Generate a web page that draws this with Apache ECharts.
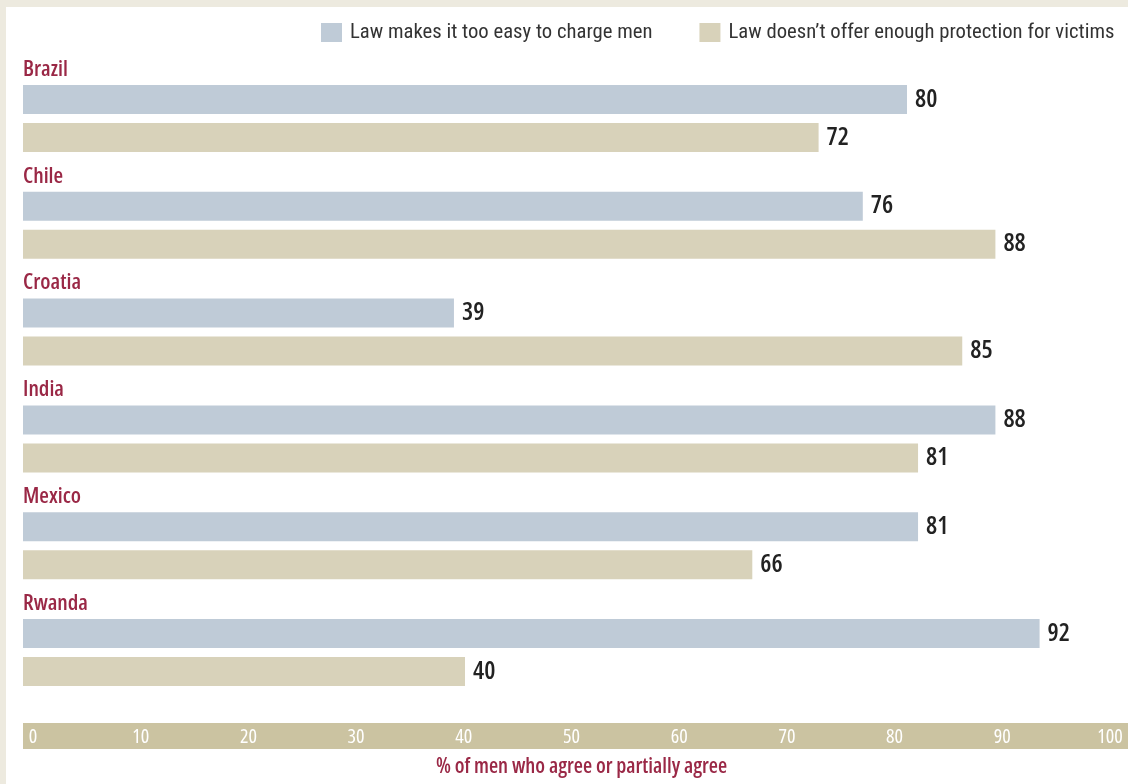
<!DOCTYPE html>
<html>
<head>
<meta charset="utf-8">
<script src="https://cdn.jsdelivr.net/npm/echarts@6/dist/echarts.min.js"></script>
<style>
html,body{margin:0;padding:0;background:#edeadf;}
#chart{width:1128px;height:784px;}
</style>
</head>
<body>
<div id="chart"></div>
<script>
const countries = ['Brazil', 'Chile', 'Croatia', 'India', 'Mexico', 'Rwanda'];
const seriesNames = ['Law makes it too easy to charge men', 'Law doesn\u2019t offer enough protection for victims'];
const tooEasy = [80, 76, 39, 88, 81, 92];
const notEnough = [72, 88, 85, 81, 66, 40];
const axisTitle = '% of men who agree or partially agree';

const COND = "'Open Sans'";
const LEG = "'Roboto'";
const RED = '#9a2846';
const BLUE = '#bfcbd7';
const TAN = '#d8d2ba';
const BAND = '#cbc3a1';

const chart = echarts.init(document.getElementById('chart'), null, {renderer: 'canvas'});

const valueLabel = {
  show: true,
  position: 'right',
  distance: 8,
  fontFamily: COND,
  fontStyle: 'condensed',
  fontWeight: 600,
  fontSize: 25,
  color: '#222222'
};

chart.setOption({
  backgroundColor: '#edeadf',
  animation: false,
  graphic: [
    {type: 'rect', z: -10, shape: {x: 6, y: 7, width: 1122, height: 777}, style: {fill: '#ffffff'}},
    {type: 'rect', z: -5, shape: {x: 23, y: 723, width: 1105, height: 26}, style: {fill: BAND}}
  ],
  legend: {
    left: 316,
    top: 17,
    width: 900,
    itemWidth: 21,
    itemHeight: 19,
    itemGap: 47,
    icon: 'rect',
    textStyle: {fontFamily: LEG, fontStyle: 'condensed', fontSize: 20.7, color: '#333333', padding: [0, 0, 0, 3]},
    data: seriesNames
  },
  grid: [
    {left: 23, right: 0, top: 65, height: 641},
    {left: 33, right: 18, top: 736, height: 1}
  ],
  xAxis: [
    {
      type: 'value', gridIndex: 0, min: 0, max: 100,
      show: false
    },
    {
      type: 'value', gridIndex: 1, min: 0, max: 100, interval: 10,
      axisLine: {show: false}, axisTick: {show: false}, splitLine: {show: false},
      axisLabel: {
        margin: 0, verticalAlign: 'middle',
        fontFamily: COND, fontStyle: 'condensed', fontWeight: 500, fontSize: 20, color: '#ffffff'
      },
      name: axisTitle,
      nameLocation: 'middle',
      nameGap: 20,
      nameTextStyle: {fontFamily: COND, fontStyle: 'condensed', fontWeight: 600, fontSize: 21, color: RED, padding: [0, 0, 0, 20]}
    }
  ],
  yAxis: [
    {
      type: 'category', gridIndex: 0, data: countries, inverse: true,
      axisLine: {show: false}, axisTick: {show: false}, splitLine: {show: false},
      axisLabel: {
        inside: true, margin: 0, align: 'left', verticalAlign: 'bottom',
        padding: [0, 0, 37, 0], lineHeight: 24,
        fontFamily: COND, fontStyle: 'condensed', fontWeight: 600, fontSize: 22, color: RED
      }
    },
    {type: 'value', gridIndex: 1, show: false}
  ],
  series: [
    {
      name: seriesNames[0], type: 'bar', xAxisIndex: 0, yAxisIndex: 0,
      data: tooEasy, barWidth: 29, barGap: '31%',
      itemStyle: {color: BLUE}, label: valueLabel
    },
    {
      name: seriesNames[1], type: 'bar', xAxisIndex: 0, yAxisIndex: 0,
      data: notEnough, barWidth: 29, barGap: '31%',
      itemStyle: {color: TAN}, label: valueLabel
    }
  ]
});
</script>
</body>
</html>
